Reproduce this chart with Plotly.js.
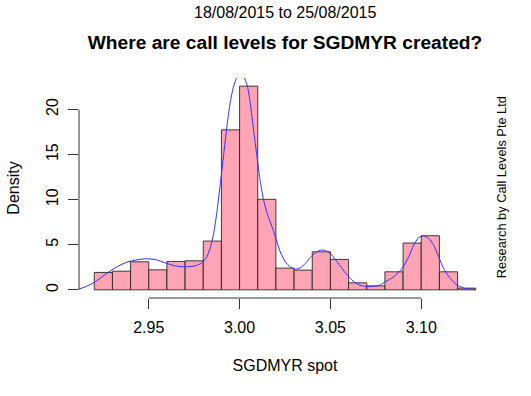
<!DOCTYPE html>
<html>
<head>
<meta charset="utf-8">
<script src="https://cdn.plot.ly/plotly-3.0.1.min.js"></script>
<style>html,body{margin:0;padding:0;background:#fff;}#chart{width:531px;height:396px;}</style>
</head>
<body>
<div id="chart"></div>
<script>
// Histogram bins (left edges) and densities
var binLefts = [2.92,2.93,2.94,2.95,2.96,2.97,2.98,2.99,3.00,3.01,3.02,3.03,3.04,3.05,3.06,3.07,3.08,3.09,3.10,3.11,3.12];
var binWidth = 0.01;
var densities = [1.93,2.07,3.11,2.22,3.15,3.22,5.41,17.74,22.59,10.04,2.41,2.19,4.22,3.37,0.78,0.44,2.0,5.19,6.0,2.0,0.19];

// Kernel density curve
var kdeX = [2.911,2.915,2.9205,2.926,2.9315,2.937,2.9425,2.948,2.9535,2.959,2.9645,2.970,2.9755,2.979,2.982,2.9839,2.9857,2.9875,2.9893,2.9912,2.993,2.9948,2.9966,2.9984,3.0004,3.0024,3.0044,3.0059,3.0077,3.0096,3.0114,3.0132,3.015,3.0169,3.0187,3.0206,3.0224,3.0252,3.0279,3.0307,3.0334,3.0362,3.0389,3.0417,3.0444,3.0472,3.05,3.0527,3.0555,3.0582,3.061,3.0637,3.0665,3.0692,3.072,3.0747,3.0775,3.0802,3.0848,3.0894,3.0931,3.0958,3.0986,3.1013,3.1041,3.1068,3.1096,3.1123,3.116,3.1197,3.1243,3.1298];
var kdeY = [0.05,0.33,0.89,1.70,2.44,3.0,3.29,3.44,3.37,3.0,2.66,2.55,2.66,2.95,3.66,4.7,6.2,8.6,11.6,14.9,18.1,20.7,22.5,23.5,23.9,23.6,22.5,20.67,17.7,14.75,12.0,10.0,8.6,7.5,6.5,5.3,4.2,3.1,2.55,2.29,2.44,2.92,3.59,4.1,4.4,4.37,4.03,3.37,2.63,1.89,1.26,0.78,0.5,0.38,0.36,0.42,0.55,0.89,1.44,2.37,3.66,4.96,5.8,5.99,5.7,4.96,3.66,2.37,1.26,0.52,0.15,0.04];

var xTicks = [2.95,3.00,3.05,3.10];
var xTickText = ['2.95','3.00','3.05','3.10'];
var yTicks = [0,5,10,15,20];
var yTickText = ['0','5','10','15','20'];

var binCenters = binLefts.map(function(b){ return +(b + binWidth/2).toFixed(4); });

var FONT = '"Liberation Sans", Arial, Helvetica, sans-serif';
var AXC = '#333333';

var traces = [
  {
    type: 'bar',
    x: binCenters,
    y: densities,
    width: binWidth,
    marker: {color: '#FFA4B4', line: {color: 'rgba(30,30,30,0.85)', width: 1}},
    hoverinfo: 'x+y',
    showlegend: false
  },
  {
    type: 'scatter',
    mode: 'lines',
    x: kdeX,
    y: kdeY,
    line: {color: '#3030FF', width: 1, shape: 'spline', smoothing: 0.6},
    showlegend: false
  }
];

var layout = {
  width: 531,
  height: 396,
  paper_bgcolor: '#ffffff',
  plot_bgcolor: '#ffffff',
  margin: {l: 79, r: 40, t: 78, b: 98, pad: 0},
  font: {family: FONT, size: 16, color: '#000'},
  bargap: 0,
  title: {
    text: 'Where are call levels for SGDMYR created?',
    font: {family: FONT, size: 19.2, color: '#000', weight: 'bold'},
    x: 0.5, xref: 'paper', xanchor: 'center',
    y: 1 - 42/396, yref: 'container', yanchor: 'middle'
  },
  xaxis: {
    range: [2.9116, 3.1384],
    tickvals: xTicks,
    ticktext: xTickText,
    ticks: 'outside',
    ticklen: 10,
    tickwidth: 1,
    tickcolor: AXC,
    ticklabelstandoff: 5,
    showline: false,
    showgrid: false,
    zeroline: false,
    tickfont: {family: FONT, size: 16, color: '#000'},
    title: {text: 'SGDMYR spot', font: {family: FONT, size: 16, color: '#000'}, standoff: 24},
    fixedrange: true
  },
  yaxis: {
    range: [-0.904, 23.49],
    tickvals: yTicks,
    ticktext: yTickText,
    ticks: 'outside',
    ticklen: 10,
    tickwidth: 1,
    tickcolor: AXC,
    tickangle: -90,
    ticklabelstandoff: 4,
    showline: false,
    showgrid: false,
    zeroline: false,
    tickfont: {family: FONT, size: 16, color: '#000'},
    title: {text: 'Density', font: {family: FONT, size: 16, color: '#000'}, standoff: 19},
    fixedrange: true
  },
  shapes: [
    {type: 'line', xref: 'x', yref: 'paper', x0: xTicks[0], x1: xTicks[xTicks.length-1], y0: 0, y1: 0, line: {color: AXC, width: 1}},
    {type: 'line', xref: 'paper', yref: 'y', x0: 0, x1: 0, y0: yTicks[0], y1: yTicks[yTicks.length-1], line: {color: AXC, width: 1}}
  ],
  annotations: [
    {
      text: '18/08/2015 to 25/08/2015',
      xref: 'paper', yref: 'paper', x: 0.5, y: (298-12.7)/220,
      xanchor: 'center', yanchor: 'middle', showarrow: false,
      font: {family: FONT, size: 16, color: '#000'}
    },
    {
      text: 'Research by Call Levels Pte Ltd',
      xref: 'paper', yref: 'paper', x: (501.7-79)/412, y: (298-187.5)/220,
      xanchor: 'center', yanchor: 'middle', showarrow: false, textangle: -90,
      font: {family: FONT, size: 12.8, color: '#000'}
    }
  ]
};

Plotly.newPlot('chart', traces, layout, {displayModeBar: false, staticPlot: true});
</script>
</body>
</html>
